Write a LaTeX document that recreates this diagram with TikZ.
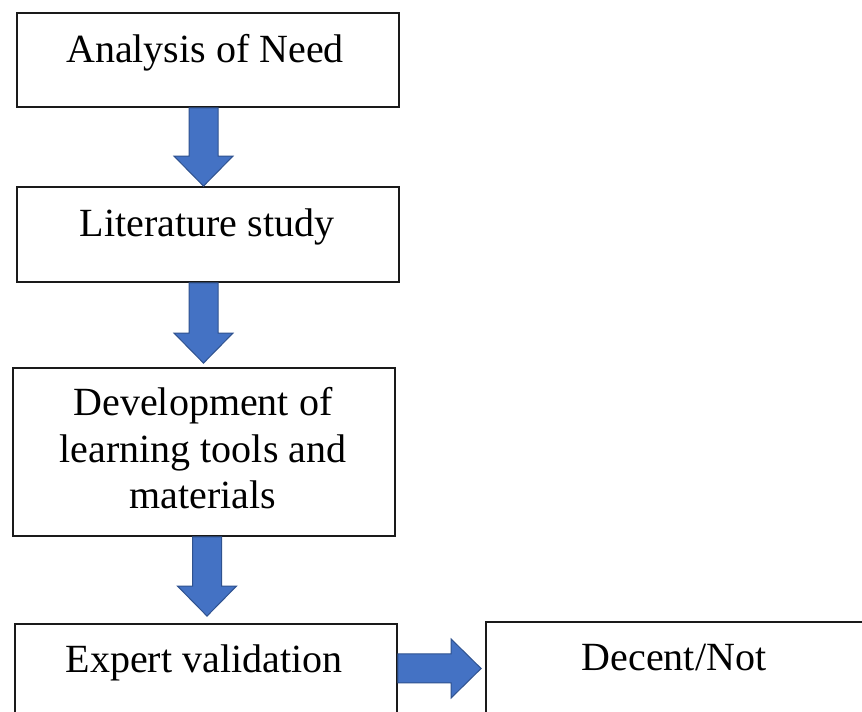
\documentclass[tikz,border=0pt]{standalone}
\usepackage{fontspec}
\setmainfont{Liberation Serif}
\usetikzlibrary{calc}
\definecolor{arrowfill}{HTML}{4472C4}
\definecolor{arrowline}{HTML}{2F528F}
\definecolor{boxline}{HTML}{1A1A1A}

% Downward block arrow from one box to the next: #1 from, #2 to, #3 centre x, #4 gap above target
\newcommand\blockdown[4]{%
  \draw[blockarrow] let \p1=(#1.south), \p2=(#2.north) in
    ({(#3-14.5)*1pt},\y1) -- ({(#3-14.5)*1pt},\y2+#4pt+30pt)
    -- ({(#3-29.5)*1pt},\y2+#4pt+30pt) -- ({#3*1pt},\y2+#4pt)
    -- ({(#3+29.5)*1pt},\y2+#4pt+30pt) -- ({(#3+14.5)*1pt},\y2+#4pt+30pt)
    -- ({(#3+14.5)*1pt},\y1) -- cycle;}

\begin{document}
\begin{tikzpicture}[x=1pt,y=1pt,
  box/.style={draw=boxline,line width=1.8pt,fill=white,rectangle,inner sep=0pt},
  txt/.style={anchor=base,inner sep=0pt,font=\fontsize{40}{46.5}\selectfont},
  blockarrow/.style={fill=arrowfill,draw=arrowline,line width=1pt,line join=miter}]
\clip (0,0) rectangle (862,712);
\fill[white] (0,0) rectangle (862,712);

% boxes
\node[box,minimum width=382,minimum height=94] (need) at (208,652) {};
\node[txt] (needT) at (205,649) {Analysis of Need};

\node[box,minimum width=382,minimum height=95] (lit) at (208,477.5) {};
\node[txt] (litT) at (207,475) {Literature study};

\node[box,minimum width=382,minimum height=168] (dev) at (204,260) {};
\node[txt] (devA) at (203,296) {Development of};
\node[txt] (devB) at (203,249.5) {learning tools and};
\node[txt] (devC) at (203,203) {materials};

\node[box,minimum width=382,minimum height=98] (exp) at (206,39) {};
\node[txt] (expT) at (204,39) {Expert validation};

\node[box,minimum width=384,minimum height=100] (dec) at (678,40) {};
\node[txt] (decT) at (674,41) {Decent/Not};

% arrows
\blockdown{need}{lit}{203.5}{0}
\blockdown{lit}{dev}{203.5}{4}
\blockdown{dev}{exp}{207}{7}

\draw[blockarrow] let \p1=(exp.east), \p2=(dec.west) in
  (\x1,29) -- (\x2-34pt,29) -- (\x2-34pt,14) -- (\x2-4pt,43.5)
  -- (\x2-34pt,73) -- (\x2-34pt,58) -- (\x1,58) -- cycle;
\end{tikzpicture}
\end{document}
